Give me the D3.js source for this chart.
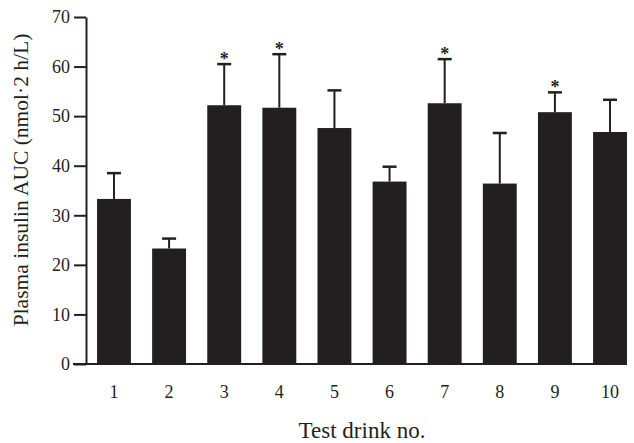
<!DOCTYPE html>
<html lang="en">
<head>
<meta charset="utf-8">
<title>Plasma insulin AUC</title>
<script src="https://cdn.jsdelivr.net/npm/d3@7"></script>
<style>
  body { margin: 0; background: #fff; }
  text { font-family: "Liberation Serif", "Times New Roman", serif; fill: #231f20; }
</style>
</head>
<body>
<script>
// data
var drinks = ["1", "2", "3", "4", "5", "6", "7", "8", "9", "10"];
var means = [33.3, 23.3, 52.2, 51.7, 47.6, 36.8, 52.6, 36.4, 50.8, 46.8];
var errTop = [38.5, 25.3, 60.5, 62.5, 55.2, 39.8, 61.5, 46.6, 54.8, 53.3];
var signif = [false, false, true, true, false, false, true, false, true, false];
var yTicks = [0, 10, 20, 30, 40, 50, 60, 70];

var w = 634, h = 443;
var ink = "#231f20";

var svg = d3.select("body").append("svg")
  .attr("width", w)
  .attr("height", h);

var x = d3.scaleBand()
  .domain(drinks)
  .range([86, 638])
  .paddingInner(0.385)
  .paddingOuter(0.2);

var y = d3.scaleLinear()
  .domain([0, 70])
  .range([364, 17]);

// bars
svg.selectAll("rect.bar")
  .data(means)
  .enter()
  .append("rect")
  .attr("class", "bar")
  .attr("x", function(d, i) { return x(drinks[i]); })
  .attr("y", function(d) { return y(d); })
  .attr("width", x.bandwidth())
  .attr("height", function(d) { return y(0) - y(d); })
  .attr("fill", ink);

// error bars (upper only)
var err = svg.selectAll("g.err")
  .data(means)
  .enter()
  .append("g")
  .attr("class", "err");

err.append("line")
  .attr("x1", function(d, i) { return x(drinks[i]) + x.bandwidth() / 2; })
  .attr("x2", function(d, i) { return x(drinks[i]) + x.bandwidth() / 2; })
  .attr("y1", function(d) { return y(d); })
  .attr("y2", function(d, i) { return y(errTop[i]); })
  .attr("stroke", ink)
  .attr("stroke-width", 2);

err.append("line")
  .attr("x1", function(d, i) { return x(drinks[i]) + x.bandwidth() / 2 - 7; })
  .attr("x2", function(d, i) { return x(drinks[i]) + x.bandwidth() / 2 + 7; })
  .attr("y1", function(d, i) { return y(errTop[i]); })
  .attr("y2", function(d, i) { return y(errTop[i]); })
  .attr("stroke", ink)
  .attr("stroke-width", 2.5);

// significance stars
svg.selectAll("text.star")
  .data(drinks.filter(function(d, i) { return signif[i]; }))
  .enter()
  .append("text")
  .attr("class", "star")
  .attr("text-anchor", "middle")
  .attr("x", function(d) { return x(d) + x.bandwidth() / 2; })
  .attr("y", function(d) { return y(errTop[drinks.indexOf(d)]) + 1; })
  .attr("font-size", "18px")
  .attr("font-weight", "bold")
  .text("*");

// y axis
var yAxis = svg.append("g")
  .attr("transform", "translate(86,0)")
  .call(d3.axisLeft(y).tickValues(yTicks).tickSize(12).tickPadding(4).tickSizeOuter(0));

yAxis.select(".domain").attr("stroke", ink).attr("stroke-width", 2);
yAxis.selectAll(".tick line").attr("stroke", ink).attr("stroke-width", 2);
yAxis.selectAll(".tick text")
  .attr("font-size", "18px")
  .attr("font-family", "Liberation Serif, serif")
  .attr("fill", ink);

// x axis baseline
svg.append("line")
  .attr("x1", 73)
  .attr("x2", 627)
  .attr("y1", y(0))
  .attr("y2", y(0))
  .attr("stroke", ink)
  .attr("stroke-width", 2);

// x tick labels
svg.selectAll("text.xlab")
  .data(drinks)
  .enter()
  .append("text")
  .attr("class", "xlab")
  .attr("text-anchor", "middle")
  .attr("x", function(d) { return x(d) + x.bandwidth() / 2; })
  .attr("y", 398)
  .attr("font-size", "18px")
  .text(function(d) { return d; });

// axis titles
svg.append("text")
  .attr("text-anchor", "middle")
  .attr("x", 362)
  .attr("y", 438)
  .attr("font-size", "23px")
  .text("Test drink no.");

svg.append("text")
  .attr("text-anchor", "middle")
  .attr("transform", "translate(28,180) rotate(-90)")
  .attr("font-size", "21.5px")
  .text("Plasma insulin AUC (nmol·2 h/L)");
</script>
</body>
</html>
